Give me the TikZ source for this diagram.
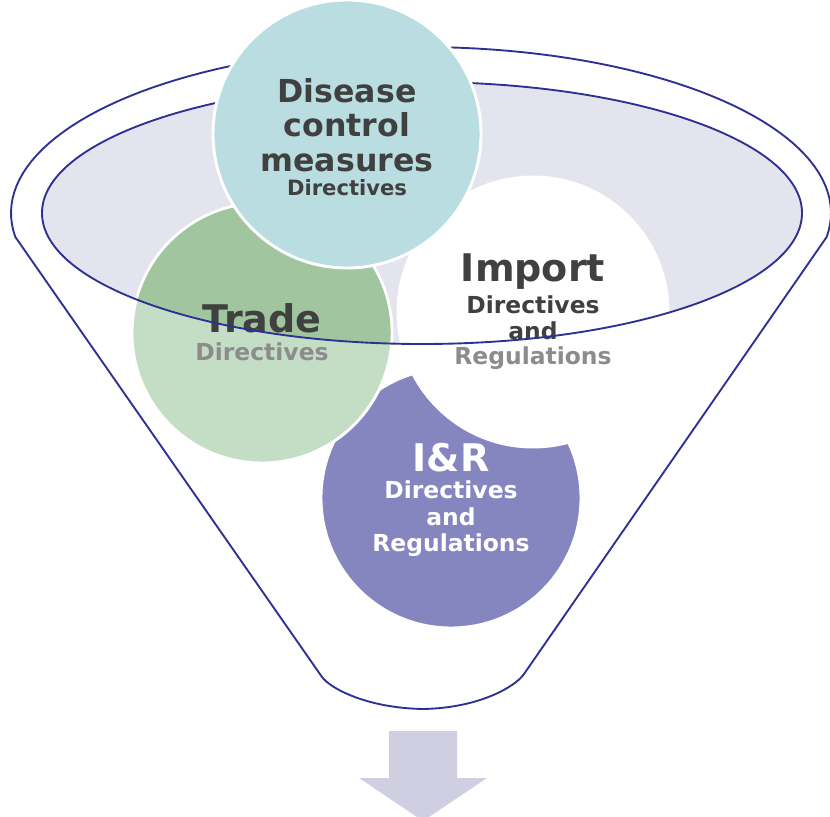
\documentclass[tikz,border=0pt]{standalone}
\usepackage{fontspec}
\setmainfont{DejaVu Sans}
\usetikzlibrary{positioning}

\definecolor{funnelblue}{RGB}{46,49,146}
\definecolor{lidgray}{RGB}{228,228,238}
\definecolor{diseaseteal}{RGB}{185,221,225}
\definecolor{tradelight}{RGB}{196,222,197}
\definecolor{tradedark}{RGB}{161,198,159}
\definecolor{irpurple}{RGB}{133,133,192}
\definecolor{arrowgray}{RGB}{207,207,225}
\definecolor{textdark}{RGB}{64,64,64}
\definecolor{textgray}{RGB}{140,140,140}

\begin{document}
\begin{tikzpicture}[x=0.03cm,y=-0.03cm,
  bubble/.style={circle,draw=white,line width=2.5pt,inner sep=0pt},
  funnelline/.style={draw=funnelblue,line width=1.6pt},
  headtxt/.style={font=\fontsize{32.5}{35}\selectfont\bfseries,align=center},
  subtxt/.style={font=\fontsize{20}{22.6}\selectfont\bfseries,align=center}]

\useasboundingbox (0,0) rectangle (830,817);

% outer funnel
\draw[funnelline] plot[domain=171.7:368.3,samples=90] ({421+410*cos(\x)},{213+166*sin(\x)})
  -- (524,674) .. controls (516,686) and (480,708) .. (423,709)
  .. controls (366,708) and (330,688) .. (322,677) -- cycle;

% lid of the funnel
\fill[lidgray] (422,213) ellipse[x radius=11.4cm,y radius=3.93cm];

% bubbles below the lid line
\node[bubble,fill=irpurple,minimum size=7.8cm] (iandr) at (451,498) {};
\node[bubble,fill=tradelight,minimum size=7.8cm] (trade) at (262,333) {};
\begin{scope}
  \clip (422,213) ellipse[x radius=11.4cm,y radius=3.93cm];
  \fill[tradedark] (trade.center) circle[radius=3.856cm];
\end{scope}
\node[bubble,fill=white,minimum size=8.1cm] (import) at (533,312) {};

% labels
\node[headtxt,text=textdark] (trade-t) at (262,318) {Trade};
\node[subtxt,text=textgray] (trade-s) at (262,352) {Directives};
\node[headtxt,text=textdark] (import-t) at (533,272) {Import};
\node[subtxt,text=textdark] (import-s) at (533,318) {Directives\\and};
\node[subtxt,text=textgray] (import-r) at (533,358) {Regulations};

% lid line
\draw[funnelline] (422,213) ellipse[x radius=11.4cm,y radius=3.93cm];

% top bubble
\node[bubble,fill=diseaseteal,minimum size=8.04cm] (disease) at (347,134) {};
\node[font=\fontsize{27}{29.5}\selectfont\bfseries,align=center,text=textdark] (disease-t) at (347,125) {Disease\\control\\measures};
\node[font=\fontsize{18}{20}\selectfont\bfseries,text=textdark] (disease-s) at (347,188) {Directives};

\node[headtxt,text=white] (iandr-t) at (451,458) {I\&R};
\node[subtxt,text=white] (iandr-s) at (451,519) {Directives\\and\\Regulations};

% arrow out of the funnel
\fill[arrowgray] (389,731) -- (457,731) -- (457,778) -- (487,778) -- (423,821)
  -- (359,778) -- (389,778) -- cycle;

\end{tikzpicture}
\end{document}
